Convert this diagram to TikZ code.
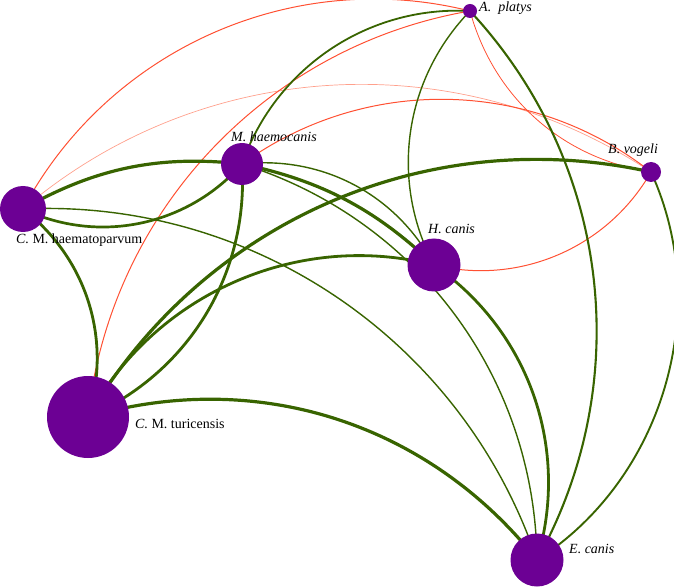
\documentclass[tikz,border=0pt]{standalone}
\usepackage{fontspec}
\setmainfont{Liberation Serif}
\pgfdeclarelayer{bg}
\pgfsetlayers{bg,main}
\definecolor{edgegreen}{RGB}{56,100,0}
\definecolor{edgered}{RGB}{255,80,50}
\definecolor{edgepink}{RGB}{255,160,140}
\definecolor{nodepurple}{RGB}{108,0,148}
\begin{document}
\begin{tikzpicture}[x=1pt,y=1pt,
  vert/.style={circle, fill=nodepurple, inner sep=0pt, minimum size=#1},
  lab/.style={anchor=base west, inner sep=0pt, font=\fontsize{14}{16}\selectfont},
  gthin/.style={draw=edgegreen, line width=1.4pt, looseness=0.95},
  gmid/.style={draw=edgegreen, line width=2.1pt, looseness=0.95},
  gthick/.style={draw=edgegreen, line width=3.2pt, looseness=0.95},
  rline/.style={draw=edgered, line width=1pt, looseness=0.95},
  rlight/.style={draw=edgepink, line width=0.7pt, looseness=0.95}]
\useasboundingbox (0,0) rectangle (674,587);
% vertices
\node[vert=14pt] (AP) at (470,576) {};
\node[vert=20pt] (BV) at (651,415) {};
\node[vert=42pt] (MH) at (242,423) {};
\node[vert=46pt] (CH) at (23,378) {};
\node[vert=53pt] (HC) at (434,322) {};
\node[vert=82pt] (CT) at (88,170) {};
\node[vert=53pt] (EC) at (537,27) {};
% labels
\node[lab] (lAP) at (479,575) {\textit{A.\ \ platys}};
\node[lab] (lBV) at (608,433) {\textit{B. vogeli}};
\node[lab] (lMH) at (231,445) {\textit{M. haemocanis}};
\node[lab] (lCH) at (16,343) {\textit{C.} M. haematoparvum};
\node[lab] (lHC) at (428,353) {\textit{H. canis}};
\node[lab] (lCT) at (135,159) {\textit{C.} M. turicensis};
\node[lab] (lEC) at (569,34) {\textit{E. canis}};
% edges
\begin{pgfonlayer}{bg}
% red
\draw[rline]  (CH.center) to[bend left=38] (AP.center);
\draw[rlight] (CH.center) to[bend left=37] (BV.center);
\draw[rline]  (MH.center) to[bend left=37] (BV.center);
\draw[rline]  (CT.center) to[bend left=37] (AP.center);
\draw[rlight, draw=edgered, line width=0.8pt] (AP.center) to[bend right=33] (BV.center);
\draw[rline]  (HC.center) to[bend right=37] (BV.center);
% green
\draw[gthick] (CH.center) to[bend left=18] (MH.center);
\draw[gthick, line width=2.7pt] (CH.center) to[bend right=37] (MH.center);
\draw[gthin]  (CH.center) to[bend left=37] (EC.center);
\draw[gthick, line width=2.8pt] (CH.center) to[bend left=35] (CT.center);
\draw[gthin]  (MH.center) to[bend left=34] (HC.center);
\draw[gthick] (MH.center) to[bend left=16] (HC.center);
\draw[gthin]  (MH.center) to[bend left=36] (EC.center);
\draw[gthick, line width=2.8pt] (MH.center) to[bend left=35] (CT.center);
\draw[gmid, line width=1.8pt] (MH.center) to[bend left=37] (AP.center);
\draw[gthick, line width=2.8pt] (CT.center) to[bend left=38] (HC.center);
\draw[gthick] (CT.center) to[bend left=36] (BV.center);
\draw[gthick] (CT.center) to[bend left=34] (EC.center);
\draw[gthin]  (AP.center) to[bend right=36] (HC.center);
\draw[gmid]   (AP.center) to[bend left=36] (EC.center);
\draw[gmid, line width=1.9pt] (BV.center) to[bend left=41] (EC.center);
\draw[gthick, line width=2.8pt] (HC.center) to[bend left=36] (EC.center);
\end{pgfonlayer}
\end{tikzpicture}
\end{document}
